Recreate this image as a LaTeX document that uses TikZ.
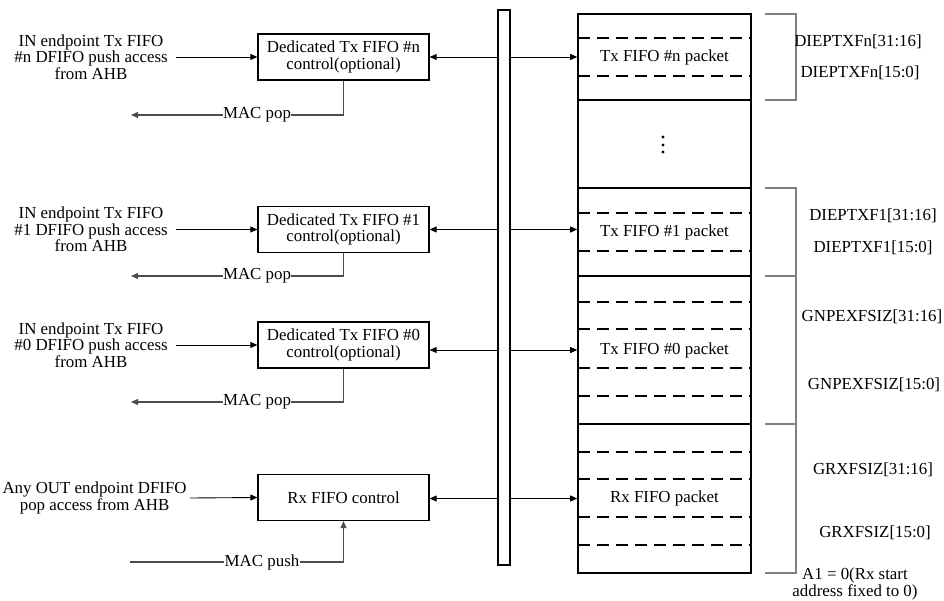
\documentclass[tikz,border=0pt]{standalone}
\usepackage{fontspec}
\setmainfont{Liberation Serif}
\usetikzlibrary{arrows.meta,positioning}

\begin{document}
\begin{tikzpicture}[x=0.02cm,y=-0.02cm,
    font=\fontsize{9.6}{9.3}\selectfont,
    ctrl/.style={draw,line width=0.7pt,minimum width=3.42cm,minimum height=0.92cm,align=center,inner sep=0pt},
    memsec/.style={draw,line width=0.9pt,minimum width=3.46cm,inner sep=0pt},
    srclbl/.style={align=center,anchor=east,inner xsep=0.16cm,inner ysep=0pt},
    maclbl/.style={inner sep=0pt},
    reglbl/.style={inner sep=0pt,align=center},
    tip/.style={-{Triangle[length=4pt,width=3.4pt]}},
    sig/.style={line width=0.5pt,tip},
    mac/.style={line width=0.6pt,black!70},
    dashline/.style={line width=0.6pt,dash pattern=on 6.8pt off 4pt},
    brk/.style={line width=0.6pt,black!50}]
  \useasboundingbox (0,0) rectangle (944,601);

  \node[draw,line width=0.7pt,minimum width=0.24cm,minimum height=11.1cm,inner sep=0pt] (bus) at (504,287.5) {};

  \node[memsec,minimum height=1.72cm] (secn) at (664.5,57) {Tx FIFO \#n packet};
  \node[memsec,minimum height=1.76cm] (secdots) at (664.5,144) {};
  \node[memsec,minimum height=1.76cm] (secone) at (664.5,232) {Tx FIFO \#1 packet};
  \node[memsec,minimum height=2.96cm] (seczero) at (664.5,350) {Tx FIFO \#0 packet};
  \node[memsec,minimum height=2.98cm] (secrx) at (664.5,498.5) {Rx FIFO packet};
  \foreach \y in {137,145,152}
    \fill (663,\y) circle (0.9pt);
  \foreach \y in {38,76,213,251,302,329,368,396,452,479,517,545}
    \draw[dashline] (578,\y) -- (751,\y);

  \node[ctrl] (ctrln) at (343.5,57) {Dedicated Tx FIFO \#n\\control(optional)};
  \node[ctrl] (ctrlone) at (343.5,229.5) {Dedicated Tx FIFO \#1\\control(optional)};
  \node[ctrl] (ctrlzero) at (343.5,345) {Dedicated Tx FIFO \#0\\control(optional)};
  \node[ctrl] (rxctrl) at (343.5,497.5) {Rx FIFO control};

  \node[srclbl] (srcn) at (176,57) {IN endpoint Tx FIFO\\\#n DFIFO push access\\from AHB};
  \node[srclbl] (srcone) at (176,229.5) {IN endpoint Tx FIFO\\\#1 DFIFO push access\\from AHB};
  \node[srclbl] (srczero) at (176,345) {IN endpoint Tx FIFO\\\#0 DFIFO push access\\from AHB};
  \node[srclbl,inner xsep=0.06cm] (srcrx) at (190,498) {Any OUT endpoint DFIFO\\pop access from AHB};

  \draw[sig] (srcn.east) -- (ctrln.west);
  \draw[sig] (srcone.east) -- (ctrlone.west);
  \draw[sig] (srczero.east) -- (ctrlzero.west);
  \draw[sig] (srcrx.east) -- (rxctrl.west);

  \draw[sig] (bus.west |- ctrln.east) -- (ctrln.east);
  \draw[sig] (bus.east |- secn.west) -- (secn.west);
  \draw[sig] (bus.west |- ctrlone.east) -- (ctrlone.east);
  \draw[sig] (bus.east |- ctrlone.east) -- (secone.west |- ctrlone.east);
  \draw[sig] (bus.west |- seczero.west) -- (ctrlzero.east |- seczero.west);
  \draw[sig] (bus.east |- seczero.west) -- (seczero.west);
  \draw[sig] (bus.west |- secrx.west) -- (rxctrl.east |- secrx.west);
  \draw[sig] (bus.east |- secrx.west) -- (secrx.west);

  \node[maclbl] (popn) at (257,115) {MAC pop};
  \node[maclbl] (popone) at (257,276) {MAC pop};
  \node[maclbl] (popzero) at (257,402) {MAC pop};
  \node[maclbl] (pushrx) at (262,562) {MAC push};
  \coordinate (popnend) at (131,115);
  \coordinate (poponeend) at (131,276);
  \coordinate (popzeroend) at (131,402);
  \coordinate (pushstart) at (130,562);
  \draw[mac] (ctrln.south) |- (popn.east);
  \draw[mac,tip] (popn.west) -- (popnend);
  \draw[mac] (ctrlone.south) |- (popone.east);
  \draw[mac,tip] (popone.west) -- (poponeend);
  \draw[mac] (ctrlzero.south) |- (popzero.east);
  \draw[mac,tip] (popzero.west) -- (popzeroend);
  \draw[mac] (pushstart) -- (pushrx.west);
  \draw[mac,tip] (pushrx.east) -| (rxctrl.south);

  \draw[brk] (765,14) -| (796,100) -- (765,100);
  \draw[brk] (765,188) -| (796,573) -- (765,573);
  \draw[brk] (765,276) -- (796,276);
  \draw[brk] (765,424) -- (796,424);

  \node[reglbl] (regn1) at (858,42) {DIEPTXFn[31:16]};
  \node[reglbl] (regn0) at (860,73) {DIEPTXFn[15:0]};
  \node[reglbl] (regone1) at (873,216) {DIEPTXF1[31:16]};
  \node[reglbl] (regone0) at (873,248) {DIEPTXF1[15:0]};
  \node[reglbl] (regzero1) at (872,317) {GNPEXFSIZ[31:16]};
  \node[reglbl] (regzero0) at (874,385) {GNPEXFSIZ[15:0]};
  \node[reglbl] (regrx1) at (873,470) {GRXFSIZ[31:16]};
  \node[reglbl] (regrx0) at (875,533) {GRXFSIZ[15:0]};
  \node[reglbl] (rxstart) at (855,584) {A1 = 0(Rx start\\address fixed to 0)};
\end{tikzpicture}
\end{document}
